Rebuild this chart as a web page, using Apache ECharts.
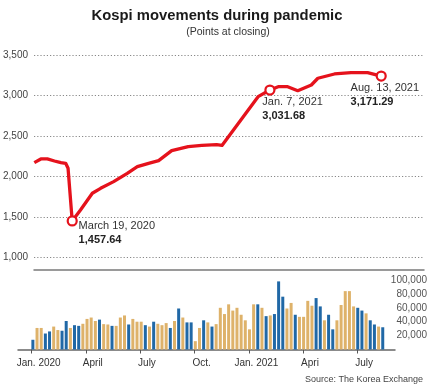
<!DOCTYPE html>
<html>
<head>
<meta charset="utf-8">
<script src="https://cdn.jsdelivr.net/npm/echarts@6/dist/echarts.min.js"></script>
<style>
html,body{margin:0;padding:0;background:#fff;}
#chart{width:430px;height:390px;}
</style>
</head>
<body>
<div id="chart"></div>
<script>
// ---- Data ----
const startDate = '2020-01-01';
// Kospi close (dates are approximate positions along the line)
const lineDates = ['2020-01-01','2020-01-12','2020-01-23','2020-02-04','2020-02-15','2020-02-23','2020-02-27','2020-03-05','2020-03-19','2020-04-08','2020-04-22','2020-05-14','2020-06-06','2020-06-23','2020-07-12','2020-07-29','2020-08-20','2020-09-17','2020-10-10','2020-11-04','2020-11-13','2021-01-13','2021-02-02','2021-02-16','2021-03-04','2021-03-21','2021-04-13','2021-04-24','2021-05-22','2021-06-19','2021-07-17','2021-08-09'];
const lineValues = [2172,2218,2218,2193,2172,2164,2103,1453,1589,1795,1856,1938,2041,2123,2164,2197,2320,2370,2385,2395,2385,2986,3068,3109,3109,3060,3130,3213,3266,3282,3282,3240];
// Annotated points
const annDates = ['2020-03-05','2021-02-02','2021-08-09'];
const annValues = [1453,3068,3240];
const annTitles = ['March 19, 2020','Jan. 7, 2021','Aug. 13, 2021'];
const annNumbers = ['1,457.64','3,031.68','3,171.29'];
// Weekly trading volume
const weekStart = '2020-01-03';
const volumes = [14000,31000,31000,23000,26000,33000,28000,27000,41000,31000,
  35000,34000,37000,44000,46000,41000,43000,36500,36000,34000,
  34000,46000,49000,36000,44000,40000,40000,35000,33000,40000,
  37000,35000,38000,31000,41000,59000,46000,39000,39000,12000,
  31000,42000,39000,33000,36500,60000,51000,65000,56000,60000,
  50000,42000,29000,65000,65000,60000,48000,49000,51000,98000,
  76000,59000,67000,50000,47000,47000,70000,63000,74000,62000,
  42000,50000,29000,42000,64000,84000,84000,62000,60000,56000,
  52000,42000,36000,33000,32000];
// B = blue week, T = tan week
const volumeKinds = 'BTTBBTTBBTBBTTTTBTTBTTTBTTTBTBTTTBTBTBBTTBTBTTTTTTTTTTBTBTBBBTTBTTTTBBTBBTTTTTBBTBBTB'.split('');
// Tick labels
const tickDates = ['2020-01-01','2020-04-01','2020-07-01','2020-10-01','2021-01-01','2021-04-01','2021-07-01'];
const tickLabels = ['Jan. 2020','April','July','Oct.','Jan. 2021','Apri','July'];
const priceTicks = [1000,1500,2000,2500,3000,3500];
const volumeTicks = [20000,40000,60000,80000,100000];

// ---- Helpers ----
const DAY = 86400000;
const t0 = Date.parse(startDate + 'T00:00:00Z');
const dayOf = s => Math.round((Date.parse(s + 'T00:00:00Z') - t0) / DAY);
const fmt = v => Number(v).toLocaleString('en-US');

const RED = '#e5121c';
const BLUE = '#2068a6';
const TAN = '#deb26a';

const lineData = lineDates.map((d, i) => [dayOf(d), lineValues[i]]);
const w0 = dayOf(weekStart);
const barData = volumes.map((v, i) => ({
  value: [w0 + 7 * i, v],
  itemStyle: { color: volumeKinds[i] === 'B' ? BLUE : TAN }
}));
const tickDays = tickDates.map(dayOf);
const labelByDay = {};
tickDays.forEach((d, i) => labelByDay[d] = tickLabels[i]);

const annPos = [[12, 4], [-2, 11], [-25, 10]];
const annData = annDates.map((d, i) => ({
  value: [dayOf(d), annValues[i]],
  label: {
    show: true,
    position: annPos[i],
    align: 'left',
    verticalAlign: 'top',
    formatter: '{a|' + annTitles[i] + '}\n{b|' + annNumbers[i] + '}',
    rich: {
      a: { fontSize: 11, color: '#333', lineHeight: 14, fontFamily: 'Liberation Sans' },
      b: { fontSize: 11, color: '#222', fontWeight: 'bold', lineHeight: 14, fontFamily: 'Liberation Sans' }
    }
  }
}));

const chart = echarts.init(document.getElementById('chart'), null, { renderer: 'canvas' });
chart.setOption({
  animation: false,
  textStyle: { fontFamily: 'Liberation Sans' },
  title: [
    { text: 'Kospi movements during pandemic', left: 212, top: 3, textAlign: 'center',
      textStyle: { fontSize: 14.8, fontWeight: 'bold', color: '#1a1a1a', fontFamily: 'Liberation Sans' } },
    { text: '(Points at closing)', left: 223, top: 22, textAlign: 'center',
      textStyle: { fontSize: 10.5, fontWeight: 'normal', color: '#333', fontFamily: 'Liberation Sans' } },
    { text: 'Source: The Korea Exchange', right: 2, bottom: 1,
      textStyle: { fontSize: 9, fontWeight: 'normal', color: '#444', fontFamily: 'Liberation Sans' } }
  ],
  grid: [
    { left: 32, right: 6, top: 55, bottom: 132.3 },
    { left: 18, right: 35, top: 280, bottom: 40.5 }
  ],
  xAxis: [
    { gridIndex: 0, type: 'value', min: -0.5, max: 658.3, offset: 12.5,
      axisLine: { show: true, onZero: false, lineStyle: { color: '#7a7a7a', width: 1.5 } },
      axisTick: { show: false }, axisLabel: { show: false }, splitLine: { show: false } },
    { gridIndex: 1, type: 'value', min: -23, max: 610.6,
      axisLine: { show: true, onZero: false, lineStyle: { color: '#666', width: 1.5 } },
      axisTick: { show: true, customValues: tickDays, length: 4, lineStyle: { color: '#555', width: 1 } },
      axisLabel: { show: true, customValues: tickDays, margin: 9, fontSize: 10, color: '#333',
        padding: [0, 0, 0, 14], formatter: v => labelByDay[v] || '' },
      splitLine: { show: false } }
  ],
  yAxis: [
    { gridIndex: 0, type: 'value', min: priceTicks[0], max: priceTicks[priceTicks.length - 1], interval: 500,
      axisLine: { show: false }, axisTick: { show: false },
      axisLabel: { fontSize: 10, color: '#444', margin: 6, formatter: fmt },
      splitLine: { show: true, lineStyle: { color: '#888', width: 1, type: [1.2, 2] } } },
    { gridIndex: 1, type: 'value', position: 'right', min: 0, max: volumeTicks[volumeTicks.length - 1], interval: 20000,
      axisLine: { show: false }, axisTick: { show: false },
      axisLabel: { fontSize: 10, color: '#555', margin: 32, align: 'right', showMinLabel: false, formatter: fmt },
      splitLine: { show: false } }
  ],
  series: [
    { type: 'bar', xAxisIndex: 1, yAxisIndex: 1, data: barData, barWidth: 3, silent: true },
    { type: 'line', xAxisIndex: 0, yAxisIndex: 0, data: lineData, symbol: 'none',
      lineStyle: { color: RED, width: 3.3, join: 'round' }, silent: true, z: 3 },
    { type: 'scatter', xAxisIndex: 0, yAxisIndex: 0, data: annData, symbol: 'circle', symbolSize: 9,
      itemStyle: { color: '#fff', borderColor: RED, borderWidth: 2.2, opacity: 1 }, silent: true, z: 5 }
  ]
});
</script>
</body>
</html>
